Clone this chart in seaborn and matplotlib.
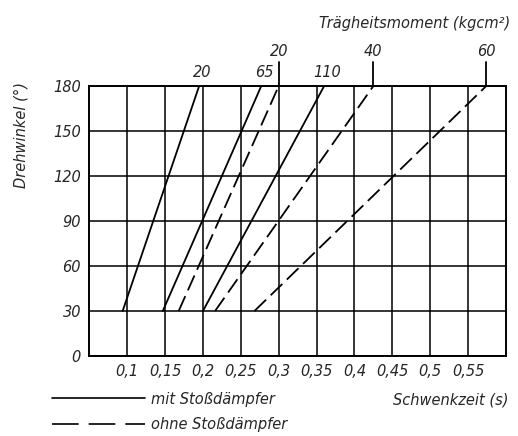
import matplotlib
matplotlib.use("Agg")
import matplotlib.pyplot as plt
from matplotlib.lines import Line2D
import seaborn as sns
import pandas as pd

# Drehwinkel (deg) at which each curve starts and ends
angles = [30, 180]

# Schwenkzeit (s) per curve, read at 30 deg and 180 deg
mit_labels = ["20", "65", "110"]
mit_times = [[0.094, 0.195], [0.147, 0.277], [0.200, 0.360]]
ohne_labels = ["20", "40", "60"]
ohne_times = [[0.168, 0.300], [0.216, 0.425], [0.268, 0.574]]

x_ticks = [0.1, 0.15, 0.2, 0.25, 0.3, 0.35, 0.4, 0.45, 0.5, 0.55]
x_ticklabels = ["0,1", "0,15", "0,2", "0,25", "0,3", "0,35", "0,4", "0,45", "0,5", "0,55"]
y_ticks = [0, 30, 60, 90, 120, 150, 180]

rows = []
for lab, t in zip(mit_labels, mit_times):
    for a, s in zip(angles, t):
        rows.append({"curve": "mit " + lab, "typ": "mit", "zeit": s, "winkel": a})
for lab, t in zip(ohne_labels, ohne_times):
    for a, s in zip(angles, t):
        rows.append({"curve": "ohne " + lab, "typ": "ohne", "zeit": s, "winkel": a})
df = pd.DataFrame(rows)

sns.set_style("white")
plt.rcParams["font.family"] = ["Liberation Sans Narrow", "DejaVu Sans"]
plt.rcParams["font.style"] = "italic"

fig = plt.figure(figsize=(5.18, 4.36), dpi=100)
ax = fig.add_axes([0.1724, 0.1835, 0.8044, 0.6193])

dash = (9, 3.5)
for curve, grp in df.groupby("curve", sort=False):
    solid = grp["typ"].iloc[0] == "mit"
    sns.lineplot(data=grp, x="zeit", y="winkel", ax=ax, color="black", lw=1.3,
                 estimator=None, sort=False, legend=False,
                 dashes=False)
    if not solid:
        ax.lines[-1].set_dashes(dash)

ax.set_xlim(0.05, 0.6)
ax.set_ylim(0, 180)
ax.set_xticks(x_ticks)
ax.set_xticklabels(x_ticklabels)
ax.set_yticks(y_ticks)
ax.grid(True, color="black", lw=1.3, alpha=0.85)
for sp in ax.spines.values():
    sp.set_color("black")
    sp.set_linewidth(1.4)
ax.tick_params(length=3, width=1.2, color="black", labelsize=10.5, pad=3)
ax.set_xlabel("")
ax.set_ylabel("")

# curve labels
for lab, t in zip(mit_labels, mit_times):
    ax.annotate(lab, (t[1], 180), xytext=(2, 4), textcoords="offset points",
                ha="center", va="bottom", fontsize=10.5, annotation_clip=False)
for lab, t in zip(ohne_labels, ohne_times):
    ax.plot([t[1], t[1]], [180, 196], color="black", lw=1.3, clip_on=False)
    ax.annotate(lab, (t[1], 196), xytext=(0, 2), textcoords="offset points",
                ha="center", va="bottom", fontsize=10.5, annotation_clip=False)

fig.text(0.985, 0.947, "Trägheitsmoment (kgcm²)", ha="right", va="center", fontsize=10.5)
fig.text(0.04, 0.69, "Drehwinkel (°)", rotation=90, ha="center", va="center", fontsize=10.5)
fig.text(0.982, 0.083, "Schwenkzeit (s)", ha="right", va="center", fontsize=10.5)

handles = [Line2D([], [], color="black", lw=1.2),
           Line2D([], [], color="black", lw=1.2, dashes=(16, 6))]
fig.legend(handles, ["mit Stoßdämpfer", "ohne Stoßdämpfer"], loc="lower left",
           bbox_to_anchor=(0.075, -0.022), frameon=False, fontsize=10.5,
           handlelength=6.4, handletextpad=0.4, labelspacing=0.75)

fig.savefig("out.png", dpi=100)
